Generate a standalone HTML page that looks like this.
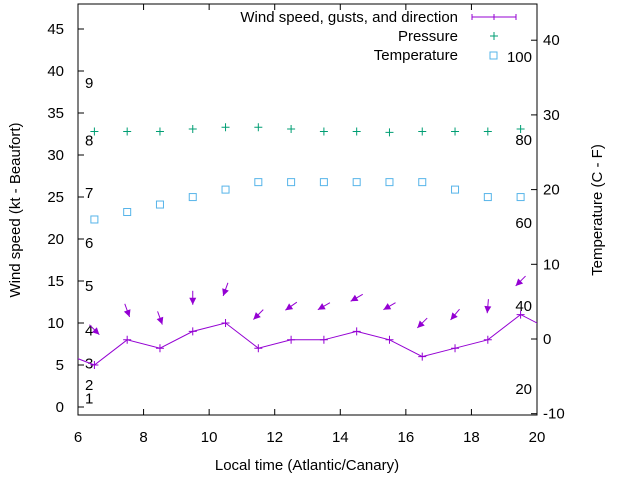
<!DOCTYPE html>
<html><head><meta charset="utf-8"><style>
body{margin:0;background:#fff}
svg{font-family:"Liberation Sans",sans-serif;font-size:15px}
</style></head><body>
<svg id="c" width="640" height="480" viewBox="0 0 640 480">
<rect x="78" y="4" width="459" height="411" fill="none" stroke="#000"/>
<g id="axes"></g>
<clipPath id="clip"><rect x="78" y="4" width="459" height="411"/></clipPath>
<g id="marks" clip-path="url(#clip)"></g>
<text x="20" y="210" transform="rotate(-90 20 210)" text-anchor="middle">Wind speed (kt - Beaufort)</text>
<text x="602" y="210" transform="rotate(-90 602 210)" text-anchor="middle">Temperature (C - F)</text>
<text x="307" y="470" text-anchor="middle">Local time (Atlantic/Canary)</text>
<g>
<text x="458" y="22" text-anchor="end">Wind speed, gusts, and direction</text>
<path d="M472 17H516M494 14V20M472 14V20M516 14V20" stroke="#9400d3" fill="none"/>
<text x="458" y="41" text-anchor="end">Pressure</text>
<path d="M490 36H498M494 32V40" stroke="#009e73"/>
<text x="458" y="60" text-anchor="end">Temperature</text>
<rect x="490" y="52" width="7" height="7" fill="none" stroke="#56b4e9"/>
</g>
</svg>
<script>
const times=[5.5,6.5,7.5,8.5,9.5,10.5,11.5,12.5,13.5,14.5,15.5,16.5,17.5,18.5,19.5,20.5];
const wind=[6.5,5,8,7,9,10,7,8,8,9,8,6,7,8,11,9];
const gust=[null,9.2,11.5,10.6,13,14,11,12,12,13,12,10,11,12,15,null];
const windFrom=[null,315,340,340,360,20,45,55,60,60,60,45,40,5,45,null];
const pTimes=[6.5,7.5,8.5,9.5,10.5,11.5,12.5,13.5,14.5,15.5,16.5,17.5,18.5,19.5];
const pressure=[32.8,32.8,32.8,33.1,33.3,33.3,33.1,32.8,32.8,32.7,32.8,32.8,32.8,33.1];
const temperature=[16,17,18,19,20,21,21,21,21,21,21,20,19,19];
const xTicks=[6,8,10,12,14,16,18,20];
const yTicks=[0,5,10,15,20,25,30,35,40,45];
const y2Ticks=[-10,0,10,20,30,40];
const beaufortLabels=["1","2","3","4","5","6","7","8","9"];
const beaufortKt=[1,2.6,5.2,9.1,14.4,19.5,25.5,31.7,38.6];
const fLabels=["20","40","60","80","100"];
const fVals=[20,40,60,80,100];

const X=t=>78+(t-6)*459/14;
const YL=v=>407-v*8.4;
const YR=v=>339-v*7.47;
const NS="http://www.w3.org/2000/svg";
const ax=document.getElementById('axes'),mk=document.getElementById('marks');
function el(tag,attrs,parent,txt){const e=document.createElementNS(NS,tag);for(const k in attrs)e.setAttribute(k,attrs[k]);if(txt!==undefined)e.textContent=txt;parent.appendChild(e);return e;}

xTicks.forEach(t=>{
 const l=el('path',{d:`M${X(t)} 415v-6M${X(t)} 4v6`,stroke:'#000'},ax);
 
 
 const tx=el('text',{x:X(t),y:442,'text-anchor':'middle'},ax,t);
 
 
});
yTicks.forEach(v=>{
 const l=el('path',{d:`M78 ${YL(v)}h6`,stroke:'#000'},ax);
 
 
 const tx=el('text',{x:64,y:YL(v)+5,'text-anchor':'end'},ax,v);
 
 
});
y2Ticks.forEach(v=>{
 const l=el('path',{d:`M537 ${YR(v)}h-6`,stroke:'#000'},ax);
 
 
 const tx=el('text',{x:543,y:YR(v)+5},ax,v);
 
 
});
beaufortLabels.forEach((s,i)=>{
 const tx=el('text',{x:85,y:YL(beaufortKt[i])+5},ax,s);
 
 
});
fLabels.forEach((s,i)=>{
 const tx=el('text',{x:532,y:YR((fVals[i]-32)*5/9)+5,'text-anchor':'end'},ax,s);
 
 
});

const line=el('polyline',{points:times.map((t,i)=>X(t)+','+YL(wind[i])).join(' '),fill:'none',stroke:'#9400d3'},mk);


times.forEach((t,i)=>{
 const p=el('path',{d:`M${X(t)-4} ${YL(wind[i])}h8M${X(t)} ${YL(wind[i])-4}v8`,stroke:'#9400d3'},mk);
 
 
 if(gust[i]!==null){
  const a=windFrom[i]*Math.PI/180;
  const dx=-Math.sin(a),dy=Math.cos(a);
  const cx=X(t),cy=YL(gust[i]),L=14;
  const x1=cx-dx*L/2,y1=cy-dy*L/2,x2=cx+dx*L/2,y2=cy+dy*L/2;
  const g=el('g',{},mk);
  
  
  el('line',{x1,y1,x2,y2,stroke:'#9400d3'},g);
  const px=-dy,py=dx,h=7,w=3.5;
  el('polygon',{points:`${x2},${y2} ${x2-dx*h+px*w},${y2-dy*h+py*w} ${x2-dx*h-px*w},${y2-dy*h-py*w}`,fill:'#9400d3'},g);
 }
});
pTimes.forEach((t,i)=>{
 const p=el('path',{d:`M${X(t)-4} ${YL(pressure[i])}h8M${X(t)} ${YL(pressure[i])-4}v8`,stroke:'#009e73'},mk);
 
 
 const r=el('rect',{x:X(t)-3.5,y:YR(temperature[i])-3.5,width:7,height:7,fill:'none',stroke:'#56b4e9'},mk);
 
 
});
</script>
</body></html>
